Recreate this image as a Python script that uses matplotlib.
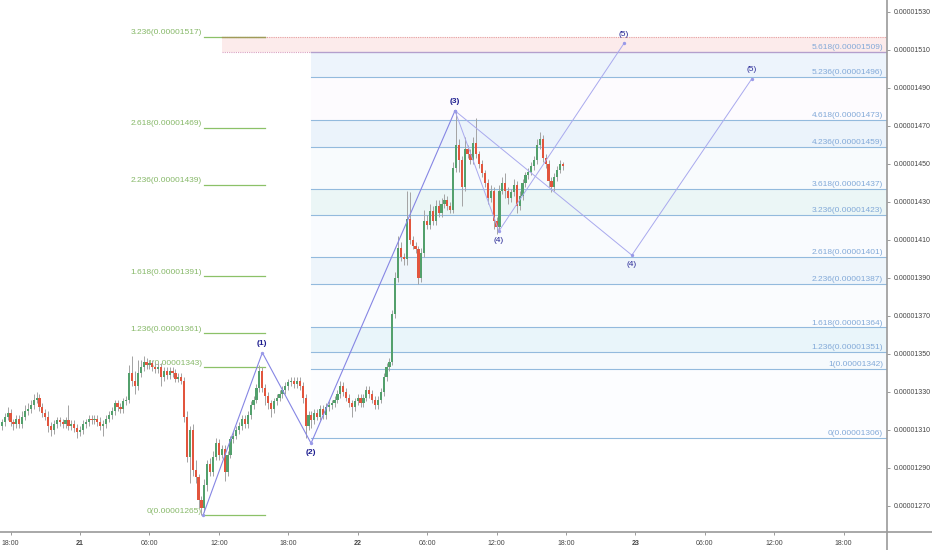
import numpy as np
import matplotlib.pyplot as plt
from matplotlib.lines import Line2D
from matplotlib.ticker import FuncFormatter, FixedLocator

plt.rcParams['font.family'] = ['Liberation Sans', 'DejaVu Sans']

# 15 min candles, prices in units of 1e-8
closes = [
    1314, 1317, 1319, 1314, 1313, 1316, 1313, 1317, 1320, 1321,
    1323, 1326, 1327, 1322, 1319, 1317, 1312, 1310, 1313, 1315,
    1314, 1313, 1315, 1312, 1313, 1311, 1309, 1310, 1313, 1314,
    1316, 1315, 1316, 1314, 1312, 1313, 1316, 1318, 1320, 1324,
    1322, 1321, 1325, 1326, 1340, 1336, 1333, 1340, 1343, 1346,
    1344, 1345, 1343, 1342, 1343, 1338, 1341, 1339, 1341, 1340,
    1337, 1338, 1336, 1317, 1296, 1310, 1289, 1285, 1273, 1269,
    1281, 1292, 1288, 1296, 1303, 1297, 1300, 1288, 1297, 1305,
    1307, 1310, 1312, 1316, 1313, 1318, 1323, 1326, 1332, 1341,
    1332, 1328, 1324, 1321, 1325, 1327, 1329, 1331, 1333, 1335,
    1336, 1334, 1336, 1333, 1327, 1312, 1318, 1315, 1319, 1317,
    1321, 1318, 1322, 1323, 1324, 1326, 1329, 1333, 1330, 1327,
    1324, 1322, 1325, 1327, 1324, 1327, 1331, 1329, 1326, 1323,
    1326, 1330, 1338, 1343, 1346, 1371, 1390, 1406, 1401, 1400,
    1421, 1410, 1407, 1405, 1390, 1403, 1420, 1418, 1425, 1420,
    1428, 1424, 1429, 1431, 1428, 1426, 1448, 1460, 1452, 1438,
    1458, 1455, 1452, 1461, 1455, 1450, 1445, 1440, 1432, 1436,
    1420, 1417, 1436, 1440, 1436, 1432, 1435, 1439, 1428, 1433,
    1440, 1444, 1446, 1449, 1452, 1460, 1463, 1453, 1450, 1441,
    1438, 1443, 1447, 1450, 1449,
]
upper_wick = [
    2, 2, 3, 2, 2, 2, 2, 3, 3, 3,
    3, 3, 3, 2, 2, 2, 3, 2, 2, 2,
    2, 2, 2, 8, 2, 2, 2, 2, 2, 2,
    2, 2, 2, 2, 3, 2, 2, 2, 2, 2,
    2, 2, 2, 2, 4, 9, 5, 7, 4, 3,
    2, 2, 2, 3, 2, 2, 2, 2, 2, 2,
    2, 2, 2, 2, 3, 2, 3, 5, 2, 2,
    3, 2, 3, 3, 3, 2, 2, 2, 2, 2,
    2, 2, 2, 2, 2, 2, 2, 2, 2, 3,
    2, 2, 2, 2, 2, 2, 2, 2, 2, 2,
    2, 2, 2, 2, 2, 2, 2, 2, 2, 2,
    2, 2, 2, 2, 2, 2, 2, 3, 2, 2,
    2, 2, 2, 2, 2, 2, 2, 2, 2, 2,
    2, 2, 2, 2, 2, 2, 3, 6, 3, 2,
    15, 14, 2, 2, 2, 3, 6, 3, 4, 3,
    3, 3, 3, 3, 2, 2, 3, 18, 3, 2,
    6, 2, 3, 3, 13, 2, 2, 2, 2, 3,
    2, 2, 3, 3, 5, 2, 2, 3, 2, 3,
    2, 2, 2, 2, 2, 3, 4, 2, 2, 2,
    2, 2, 2, 2, 1,
]
lower_wick = [
    2, 2, 2, 2, 3, 2, 2, 2, 2, 2,
    2, 2, 2, 2, 2, 2, 3, 3, 2, 2,
    2, 2, 2, 2, 2, 2, 3, 2, 2, 2,
    2, 2, 2, 2, 2, 5, 2, 2, 2, 2,
    2, 2, 2, 2, 2, 3, 4, 2, 2, 2,
    2, 2, 2, 2, 2, 5, 2, 2, 2, 2,
    2, 2, 2, 3, 3, 14, 3, 3, 4, 4,
    2, 3, 2, 2, 2, 3, 2, 5, 2, 2,
    2, 2, 2, 2, 2, 2, 2, 2, 2, 2,
    2, 5, 3, 4, 2, 2, 2, 2, 2, 2,
    2, 2, 2, 2, 3, 6, 2, 4, 2, 2,
    2, 2, 2, 2, 2, 2, 2, 2, 2, 2,
    2, 5, 2, 2, 2, 2, 2, 2, 2, 2,
    2, 2, 2, 2, 2, 2, 2, 2, 2, 3,
    3, 2, 2, 2, 3, 2, 2, 2, 2, 2,
    2, 2, 2, 2, 2, 2, 2, 2, 6, 10,
    2, 2, 2, 2, 2, 2, 2, 2, 3, 2,
    4, 4, 2, 2, 4, 3, 2, 2, 4, 2,
    2, 2, 2, 2, 2, 2, 2, 2, 2, 3,
    3, 2, 2, 2, 2,
]
first_open = 1312
first_bar_hour = -6.75   # 20th 17:15, hours counted from the 21st 00:00
bar_hours = 0.25

# fib extension on the left (green) and on the right (blue)
green_ratios = [0, 1, 1.236, 1.618, 2.236, 2.618, 3.236]
green_prices = [1265, 1343, 1361, 1391, 1439, 1469, 1517]
blue_ratios = [0, 1, 1.236, 1.618, 2.236, 2.618, 3.236, 3.618, 4.236, 4.618, 5.236, 5.618]
blue_prices = [1306, 1342, 1351, 1364, 1387, 1401, 1423, 1437, 1459, 1473, 1496, 1509]
blue_fills = ['#fcfdff', '#f6fafd', '#e9f5fa', '#fafcfe', '#eef5fb', '#f9fbfe',
              '#ebf6f6', '#f8fbfd', '#ebf3fb', '#fdfbfe', '#edf4fc']

# elliott wave counts (hour, price)
wave_hours = [10.63, 15.76, 19.97, 32.41, 36.21, 47.02]
wave_prices = [1265, 1350.7, 1303, 1478, 1414.7, 1513.5]
wave_names = ['', '(1)', '(2)', '(3)', '(4)', '(5)']
alt_hours = [32.41, 47.7, 58.05]
alt_prices = [1478, 1402, 1494.7]
alt_names = ['', '(4)', '(5)']

tick_hours = [-6, 0, 6, 12, 18, 24, 30, 36, 42, 48, 54, 60, 66]
tick_names = ['18:00', '21', '06:00', '12:00', '18:00', '22', '06:00', '12:00',
              '18:00', '23', '06:00', '12:00', '18:00']
price_ticks = list(range(1270, 1531, 20))

W, H = 932, 550
fig = plt.figure(figsize=(W / 100, H / 100), dpi=100)
ax = fig.add_axes([0, 18 / H, 887 / W, 532 / H])
ax.set_xlim(-6.914, 69.75)
ax.set_ylim(1256.3, 1536.3)

# candles
c = np.array(closes, dtype=float)
o = np.r_[first_open, c[:-1]]
hi = np.maximum(o, c) + np.array(upper_wick)
lo = np.minimum(o, c) - np.array(lower_wick)
t = first_bar_hour + bar_hours * np.arange(len(c))
up = c >= o
ax.vlines(t, lo, hi, color='#a3a3a3', lw=0.7, zorder=3)
body = np.maximum(np.abs(c - o), 0.7)
ax.bar(t, body, bottom=np.minimum(o, c), width=0.19,
       color=np.where(up, '#53a06c', '#e2553d'), lw=0, zorder=4)

# blue fib zones
x_blue0, x_blue1 = 19.97, 69.75
for k in range(len(blue_prices) - 1):
    ax.fill_between([x_blue0, x_blue1], blue_prices[k], blue_prices[k + 1],
                    color=blue_fills[k], lw=0, zorder=0)
for r, p in zip(blue_ratios, blue_prices):
    ax.plot([x_blue0, x_blue1], [p, p], color='#93badd', lw=0.8, zorder=1)
    ax.annotate(f'{r:g}({p * 1e-8:.8f})', (69.4, p), xytext=(0, 0.6),
                textcoords='offset points', ha='right', va='bottom',
                fontsize=6, color='#82a9d8', zorder=2)

# red target zone
x_red0 = 12.27
ax.fill_between([x_red0, x_blue1], blue_prices[-1], green_prices[-1],
                color='#fcebeb', lw=0, zorder=0.5)
ax.plot([x_red0, x_blue1], [green_prices[-1]] * 2, color='#e6a0a0',
        lw=0.8, ls=(0, (1, 1)), zorder=1)
ax.plot([x_red0, x_blue0], [blue_prices[-1]] * 2, color='#d9a0c0',
        lw=0.8, ls=(0, (1, 1)), zorder=1)
ax.plot([x_blue0, x_blue1], [blue_prices[-1]] * 2, color='#b49fcc', lw=0.9, zorder=1.2)

# green fib
for r, p in zip(green_ratios, green_prices):
    ax.plot([10.72, 15.99], [p, p], color='#8cc168', lw=0.9, zorder=1.3)
    ax.annotate(f'{r:g}({p * 1e-8:.8f})', (10.54, p), xytext=(0, 0.4),
                textcoords='offset points', ha='right', va='bottom',
                fontsize=6, color='#86b868', zorder=2)
ax.plot([12.27, 15.99], [green_prices[-1]] * 2, color='#a09a58', lw=0.9, zorder=1.4)

# waves
ax.plot(wave_hours[:4], wave_prices[:4], color='#8686e4', lw=0.8, zorder=5)
ax.plot(wave_hours[3:], wave_prices[3:], color='#a9a9ee', lw=0.7, zorder=5)
ax.plot(alt_hours, alt_prices, color='#a9a9ee', lw=0.7, zorder=5)
ax.scatter(wave_hours + alt_hours, wave_prices + alt_prices, s=2, color='#9a9ae8', zorder=5)
for k, (x, y, s) in enumerate(zip(wave_hours, wave_prices, wave_names)):
    if not s:
        continue
    below = s in ('(2)', '(4)')
    ax.annotate(s, (x, y), xytext=(0, -4 if below else 4), textcoords='offset points',
                ha='center', va='top' if below else 'bottom', fontsize=6,
                color='#1d1d8f', fontweight='bold' if k < 4 else 'normal', zorder=6)
for x, y, s in zip(alt_hours, alt_prices, alt_names):
    if not s:
        continue
    below = s == '(4)'
    ax.annotate(s, (x, y), xytext=(0, -4 if below else 4), textcoords='offset points',
                ha='center', va='top' if below else 'bottom', fontsize=6,
                color='#2a2a98', zorder=6)

# axes look
for side in ['top', 'left', 'right', 'bottom']:
    ax.spines[side].set_visible(False)
ax.yaxis.tick_right()
ax.yaxis.set_major_locator(FixedLocator(price_ticks))
ax.yaxis.set_major_formatter(FuncFormatter(lambda v, _: f'{v * 1e-8:.8f}'))
ax.xaxis.set_major_locator(FixedLocator(tick_hours))
ax.set_xticklabels(tick_names)
for lab, name in zip(ax.get_xticklabels(), tick_names):
    if ':' not in name:
        lab.set_fontweight('bold')
ax.tick_params(axis='both', labelsize=5, colors='#8a8a8a', labelcolor='#444444',
               length=2.5, width=0.6, pad=2)
ax.tick_params(axis='x', pad=3)

fig.add_artist(Line2D([887 / W, 887 / W], [0, 1], color='#9a9a9a', lw=1.2))
fig.add_artist(Line2D([0, 1], [18 / H, 18 / H], color='#9a9a9a', lw=1.2))

fig.savefig('out.png', dpi=100)
